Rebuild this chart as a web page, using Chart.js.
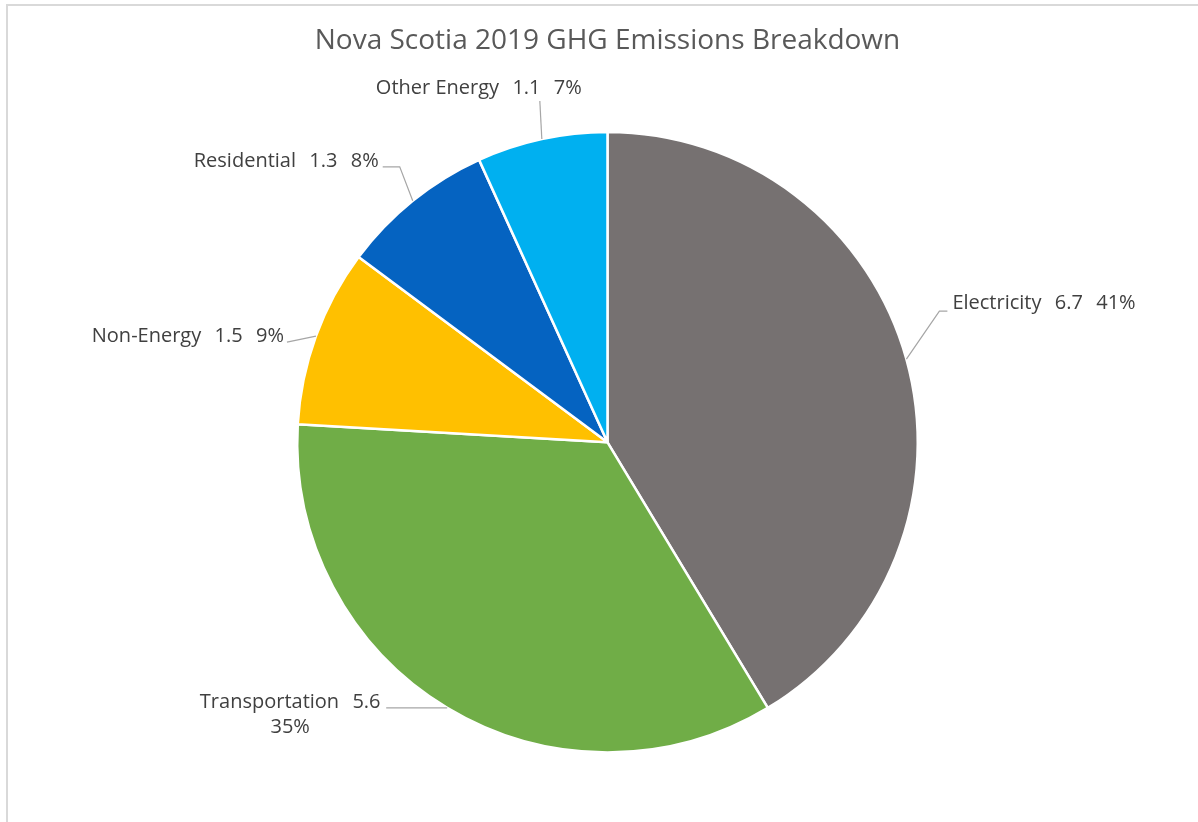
<!DOCTYPE html>
<html>
<head>
<meta charset="utf-8">
<script src="https://cdn.jsdelivr.net/npm/chart.js@4/dist/chart.umd.min.js"></script>
<style>
  html, body { margin: 0; padding: 0; background: #ffffff; overflow: hidden; }
  #frame { position: absolute; left: 6px; top: 4px; width: 1400px; height: 1000px;
           border-left: 2px solid #d9d9d9; border-top: 2px solid #d9d9d9; }
  #c { position: absolute; left: 0; top: 0; }
</style>
</head>
<body>
<div id="frame"></div>
<canvas id="c" width="1198" height="822"></canvas>
<script>
const categories = ['Electricity', 'Transportation', 'Non-Energy', 'Residential', 'Other Energy'];
const emissions = [6.7, 5.6, 1.5, 1.3, 1.1];
const sliceColors = ['#767171', '#70AD47', '#FFC000', '#0563C1', '#00B0F0'];
const chartTitle = 'Nova Scotia 2019 GHG Emissions Breakdown';

// leader-line / label placement relative to the slice's outer mid-point
const labelLayout = [
  { line: [[33, -48], [41, -48]], text: [46, -56], align: 'left', lines: 1 },
  { line: [[-61, 0]], text: [-157, -6], align: 'center', lines: 2 },
  { line: [[-29, 6]], text: [-32, 0], align: 'right', lines: 1 },
  { line: [[-13, -34], [-30, -34]], text: [-34, -40], align: 'right', lines: 1 },
  { line: [[-2, -38]], text: [-63, -51], align: 'center', lines: 1 }
];

const FONT = '"Open Sans", "Roboto", sans-serif';
const SEP = '\u2002\u2009';

const labelPlugin = {
  id: 'pieLabels',
  afterDatasetsDraw(chart) {
    const ctx = chart.ctx;
    const meta = chart.getDatasetMeta(0);
    const data = chart.data.datasets[0].data;
    const total = data.reduce((a, b) => a + b, 0);
    ctx.save();
    meta.data.forEach((arc, i) => {
      const p = arc.getProps(['x', 'y', 'startAngle', 'endAngle', 'outerRadius'], true);
      const mid = (p.startAngle + p.endAngle) / 2;
      const ex = p.x + Math.cos(mid) * p.outerRadius;
      const ey = p.y + Math.sin(mid) * p.outerRadius;
      const L = labelLayout[i];
      ctx.strokeStyle = '#a6a6a6';
      ctx.lineWidth = 1.2;
      ctx.beginPath();
      ctx.moveTo(ex, ey);
      L.line.forEach(pt => ctx.lineTo(ex + pt[0], ey + pt[1]));
      ctx.stroke();
      const pct = Math.round(data[i] / total * 100) + '%';
      const val = data[i].toFixed(1);
      ctx.fillStyle = '#404040';
      ctx.font = '20px ' + FONT;
      ctx.textBaseline = 'middle';
      ctx.textAlign = L.align;
      const tx = ex + L.text[0], ty = ey + L.text[1];
      if (L.lines === 2) {
        ctx.fillText(categories[i] + SEP + val, tx, ty);
        ctx.fillText(pct, tx, ty + 25);
      } else {
        ctx.fillText(categories[i] + SEP + val + SEP + pct, tx, ty);
      }
    });
    ctx.restore();
  }
};

new Chart(document.getElementById('c'), {
  type: 'pie',
  data: {
    labels: categories,
    datasets: [{
      data: emissions,
      backgroundColor: sliceColors,
      borderColor: '#ffffff',
      borderWidth: 2.5
    }]
  },
  options: {
    responsive: false,
    animation: false,
    devicePixelRatio: 1,
    layout: { padding: { left: 296, right: 279, top: 0, bottom: 67 } },
    plugins: {
      legend: { display: false },
      tooltip: { enabled: false },
      title: {
        display: true,
        text: chartTitle,
        color: '#595959',
        font: { family: FONT, size: 28, weight: 'normal', lineHeight: 1.2 },
        padding: { top: 24, bottom: 72 }
      }
    }
  },
  plugins: [labelPlugin]
});
</script>
</body>
</html>
